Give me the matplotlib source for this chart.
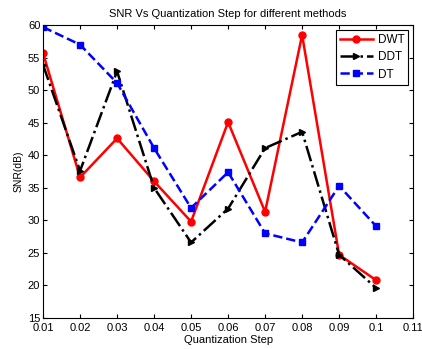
import numpy as np
import matplotlib.pyplot as plt

plt.rcParams['font.family'] = ['Liberation Sans', 'DejaVu Sans']

steps = [0.01, 0.02, 0.03, 0.04, 0.05, 0.06, 0.07, 0.08, 0.09, 0.1]
dwt = [55.7, 36.6, 42.6, 36.0, 29.8, 45.1, 31.3, 58.5, 24.7, 20.8]
ddt = [53.9, 37.6, 52.9, 35.0, 26.6, 31.8, 41.1, 43.6, 24.7, 19.6]
dt = [59.7, 57.0, 51.1, 41.1, 31.9, 37.4, 28.0, 26.6, 35.3, 29.1]

fig = plt.figure(figsize=(4.22, 3.49), dpi=100)
ax = fig.add_axes([0.102, 0.089, 0.877, 0.839])

ax.plot(steps, dwt, 'r-o', lw=1.8, ms=5, label='DWT')
ax.plot(steps, ddt, 'k-.>', lw=1.8, ms=5, label='DDT')
ax.plot(steps, dt, 'b--s', lw=1.8, ms=4.5, label='DT')

ax.set_xlim(0.01, 0.11)
ax.set_ylim(15, 60)
ax.set_xticks(np.arange(0.01, 0.111, 0.01))
ax.set_xticklabels(['0.01', '0.02', '0.03', '0.04', '0.05', '0.06', '0.07', '0.08', '0.09', '0.1', '0.11'])
ax.set_yticks(range(15, 61, 5))
ax.tick_params(direction='in', top=True, right=True, labelsize=8, length=3, pad=2)
ax.tick_params(axis='x', pad=4)

ax.set_xlabel('Quantization Step', fontsize=8, labelpad=1)
ax.set_ylabel('SNR(dB)', fontsize=7.5, labelpad=3)
ax.set_title('SNR Vs Quantization Step for different methods', fontsize=8, pad=6)

leg = ax.legend(loc='upper right', fontsize=8.5, fancybox=False, framealpha=1,
                edgecolor='black', handlelength=2.8, handletextpad=0.4,
                borderpad=0.35, labelspacing=0.45, borderaxespad=0.4)
leg.get_frame().set_linewidth(0.8)

fig.savefig('out.png', dpi=100)
